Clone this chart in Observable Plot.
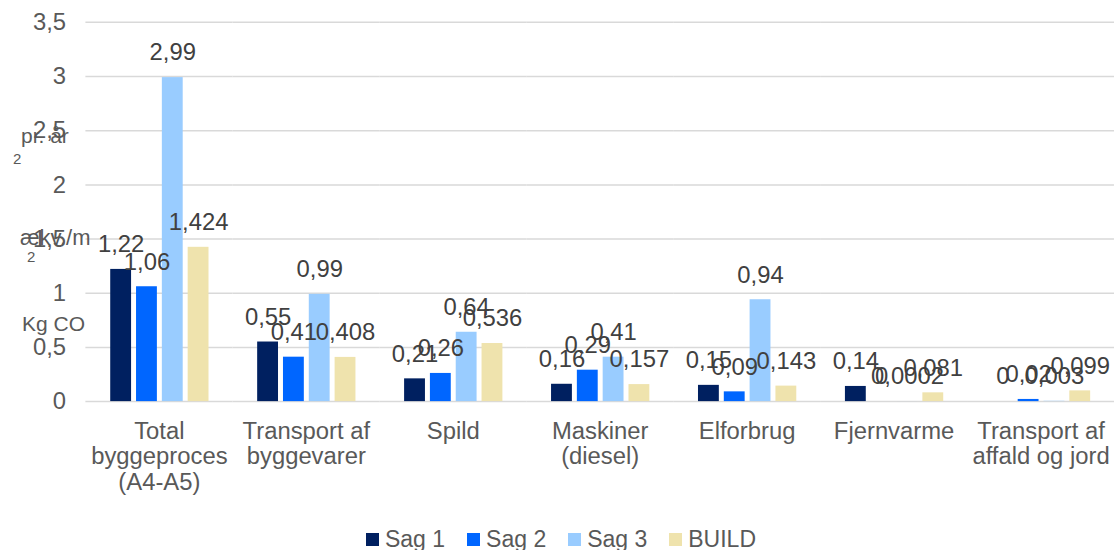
<!DOCTYPE html>
<html>
<head>
<meta charset="utf-8">
<script src="https://cdn.jsdelivr.net/npm/d3@7"></script>
<script src="https://cdn.jsdelivr.net/npm/@observablehq/plot@0.6"></script>
<style>
  html, body { margin: 0; padding: 0; background: #fff; }
  body { width: 1114px; height: 550px; overflow: hidden; font-family: "Liberation Sans", Arial, sans-serif; }
  #wrap { position: relative; width: 1114px; height: 520px; overflow: hidden; }
  #ytitle { position: absolute; left: 0; top: 0; pointer-events: none; }
  #legend { display: flex; justify-content: center; align-items: center; height: 38px; gap: 22px; font-size: 23px; color: #595959; padding-left: 8px; }
  #legend .item { display: flex; align-items: center; gap: 6px; }
  #legend .sw { width: 13px; height: 13px; display: inline-block; }
</style>
</head>
<body>
<div id="wrap"></div>
<div id="legend"></div>
<script>
const categories = ["Total\nbyggeproces\n(A4-A5)", "Transport af\nbyggevarer", "Spild", "Maskiner\n(diesel)", "Elforbrug", "Fjernvarme", "Transport af\naffald og jord"];
const series = ["Sag 1", "Sag 2", "Sag 3", "BUILD"];
const sag1 = [1.22, 0.55, 0.21, 0.16, 0.15, 0.14, 0];
const sag2 = [1.06, 0.41, 0.26, 0.29, 0.09, 0, 0.02];
const sag3 = [2.99, 0.99, 0.64, 0.41, 0.94, 0.0002, 0.003];
const build = [1.424, 0.408, 0.536, 0.157, 0.143, 0.081, 0.099];
const colors = ["#002060", "#0066FF", "#99CCFF", "#EFE3AD"];
const yTicks = [0, 0.5, 1, 1.5, 2, 2.5, 3, 3.5];
const yTitleParts = ["pr. år", "2", "ækv./m", "2", "Kg CO"];

const seriesValues = [sag1, sag2, sag3, build];
const data = [];
categories.forEach((c, i) => {
  series.forEach((s, j) => {
    data.push({category: c, series: s, value: seriesValues[j][i]});
  });
});
const fmt = v => String(v).replace(".", ",");

const chart = Plot.plot({
  width: 1122,
  height: 520,
  marginLeft: 86,
  marginRight: 0,
  marginTop: 22,
  marginBottom: 116,
  style: {fontFamily: "'Liberation Sans', Arial, sans-serif", color: "#595959", background: "#fff"},
  fx: {domain: categories, padding: 0},
  x: {domain: series, paddingInner: 0.21, paddingOuter: 0.9, axis: null},
  y: {domain: [0, 3.5]},
  color: {domain: series, range: colors},
  marks: [
    Plot.gridY(yTicks, {stroke: "#d9d9d9", strokeOpacity: 1, strokeWidth: 1.5}),
    Plot.barY(data, {fx: "category", x: "series", y: "value", fill: "series"}),
    Plot.text(data, {fx: "category", x: "series", y: "value", text: d => fmt(d.value), dy: -25, fontSize: 24, fill: "#404040"}),
    Plot.axisY({ticks: yTicks, tickSize: 0, tickPadding: 20, tickFormat: fmt, fontSize: 24, label: null}),
    Plot.axisFx({anchor: "bottom", tickSize: 0, tickPadding: 19, lineHeight: 1.08, fontSize: 24, label: null})
  ]
});
document.getElementById("wrap").appendChild(chart);

// garbled y-axis title pieces as in the reference
const ns = "http://www.w3.org/2000/svg";
const ov = document.createElementNS(ns, "svg");
ov.setAttribute("id", "ytitle");
ov.setAttribute("width", 120);
ov.setAttribute("height", 520);
const pos = [[21, 143, 21], [13, 164, 15], [20, 245, 22], [27, 262, 15], [22, 331, 21]];
yTitleParts.forEach((t, i) => {
  const el = document.createElementNS(ns, "text");
  el.setAttribute("x", pos[i][0]);
  el.setAttribute("y", pos[i][1]);
  el.setAttribute("font-size", pos[i][2]);
  el.setAttribute("fill", "#595959");
  el.setAttribute("font-family", "'Liberation Sans', Arial, sans-serif");
  el.textContent = t;
  ov.appendChild(el);
});
document.getElementById("wrap").appendChild(ov);

const leg = document.getElementById("legend");
series.forEach((s, i) => {
  const it = document.createElement("span");
  it.className = "item";
  const sw = document.createElement("span");
  sw.className = "sw";
  sw.style.background = colors[i];
  const tx = document.createElement("span");
  tx.textContent = s;
  it.appendChild(sw);
  it.appendChild(tx);
  leg.appendChild(it);
});
</script>
</body>
</html>
